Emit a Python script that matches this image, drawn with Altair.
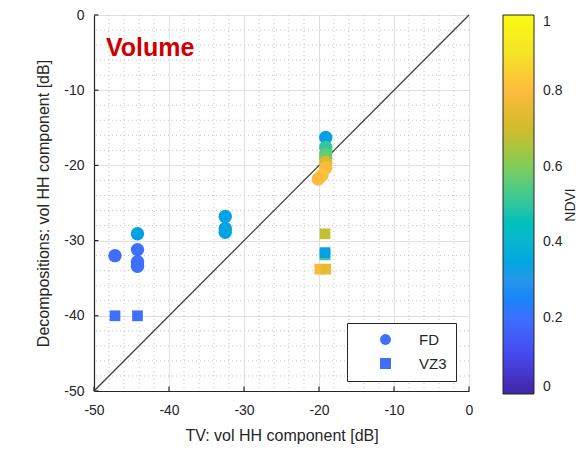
import altair as alt
import pandas as pd

# ---- data ----
fd_x = [-47.2, -44.2, -44.2, -44.2, -44.2, -32.5, -32.5, -32.5,
        -19.1, -19.1, -19.1, -19.1, -19.1, -19.1, -19.6, -20.1]
fd_y = [-32.0, -29.1, -31.2, -32.8, -33.4, -26.8, -28.4, -28.9,
        -16.3, -17.6, -18.5, -19.0, -19.6, -20.3, -21.3, -21.8]
fd_ndvi = [0.20, 0.33, 0.20, 0.20, 0.20, 0.34, 0.34, 0.34,
           0.33, 0.50, 0.55, 0.58, 0.72, 0.80, 0.82, 0.80]

vz_x = [-47.2, -44.2, -19.2, -19.2, -19.2, -19.9, -19.1]
vz_y = [-40.0, -40.0, -29.1, -31.9, -31.6, -33.8, -33.8]
vz_ndvi = [0.20, 0.20, 0.68, 0.52, 0.33, 0.80, 0.75]

methods = ["FD", "VZ3"]
major_ticks = [-50, -40, -30, -20, -10, 0]
minor_ticks = [v for v in range(-50, 1, 2) if v % 10 != 0]
diag_x = [-50, 0]
diag_y = [-50, 0]
axis_min = -50
tick_len = 0.6  # inward tick length in data units

parula_stops = [0, 0.1, 0.2, 0.3, 0.4, 0.5, 0.6, 0.7, 0.8, 0.9, 1]
parula_colors = ["#3e26a8", "#4747eb", "#3e6fff", "#2796eb", "#08b5d0", "#31c69f",
                 "#81cc59", "#d1bb2d", "#fcbb3e", "#f5e426", "#f9fb0e"]
cbar_ticks = [0, 0.2, 0.4, 0.6, 0.8, 1]

pts = pd.DataFrame({
    "x": fd_x + vz_x,
    "y": fd_y + vz_y,
    "ndvi": fd_ndvi + vz_ndvi,
    "method": ["FD"] * len(fd_x) + ["VZ3"] * len(vz_x),
    "ord": list(range(len(fd_x) + len(vz_x))),
})

FONT = "Liberation Sans"
TXT = "#262626"
LBL = "toString(datum.value)"

xscale = alt.Scale(domain=[-50, 0], nice=False)
yscale = alt.Scale(domain=[-50, 0], nice=False)

xaxis = alt.Axis(values=major_ticks, title="TV: vol HH component [dB]", grid=True,
                 gridColor="#e0e0e0", domain=True, domainColor=TXT, domainWidth=1.2,
                 ticks=False, labelPadding=12, labelFlush=False,
                 labelExpr=LBL,
                 labelFontSize=14, labelColor=TXT, labelFont=FONT, titleFont=FONT,
                 titleFontSize=16, titleFontWeight="normal", titleColor=TXT, titlePadding=10)
yaxis = alt.Axis(values=major_ticks, title="Decompositions: vol HH component [dB]", grid=True,
                 gridColor="#e0e0e0", domain=True, domainColor=TXT, domainWidth=1.2,
                 ticks=False, labelPadding=10, labelFlush=False,
                 labelExpr=LBL,
                 labelFontSize=14, labelColor=TXT, labelFont=FONT, titleFont=FONT,
                 titleFontSize=16, titleFontWeight="normal", titleColor=TXT, titlePadding=12)

minor_v = alt.Chart(pd.DataFrame({"v": minor_ticks})).mark_rule(
    color="#c4c4c4", strokeDash=[1, 3], strokeWidth=1
).encode(x=alt.X("v:Q", scale=xscale, axis=xaxis))
minor_h = alt.Chart(pd.DataFrame({"v": minor_ticks})).mark_rule(
    color="#c4c4c4", strokeDash=[1, 3], strokeWidth=1
).encode(y=alt.Y("v:Q", scale=yscale, axis=yaxis))

tick_df = pd.DataFrame({"v": major_ticks, "lo": [axis_min] * len(major_ticks),
                        "hi": [axis_min + tick_len] * len(major_ticks)})
ticks_x = alt.Chart(tick_df).mark_rule(color=TXT, strokeWidth=1.2).encode(
    x=alt.X("v:Q", scale=xscale, axis=xaxis),
    y=alt.Y("lo:Q", scale=yscale, axis=yaxis), y2="hi:Q")
ticks_y = alt.Chart(tick_df).mark_rule(color=TXT, strokeWidth=1.2).encode(
    y=alt.Y("v:Q", scale=yscale, axis=yaxis),
    x=alt.X("lo:Q", scale=xscale, axis=xaxis), x2="hi:Q")

diag = alt.Chart(pd.DataFrame({"x": diag_x, "y": diag_y})).mark_line(
    color="#404040", strokeWidth=1.3
).encode(x=alt.X("x:Q", scale=xscale, axis=xaxis), y=alt.Y("y:Q", scale=yscale, axis=yaxis))

points = alt.Chart(pts).mark_point(filled=True, opacity=1, strokeWidth=0).encode(
    x=alt.X("x:Q", scale=xscale, axis=xaxis),
    y=alt.Y("y:Q", scale=yscale, axis=yaxis),
    color=alt.Color("ndvi:Q",
                    scale=alt.Scale(domain=parula_stops, range=parula_colors),
                    legend=alt.Legend(title=None, orient="right", offset=34,
                                      gradientLength=379, gradientThickness=31,
                                      gradientStrokeColor=TXT, gradientStrokeWidth=1,
                                      values=cbar_ticks, labelExpr=LBL,
                                      labelBaseline="middle",
                                      labelFontSize=14, labelColor=TXT,
                                      labelFont=FONT, labelOffset=9)),
    shape=alt.Shape("method:N",
                    scale=alt.Scale(domain=methods, range=["circle", "square"]),
                    legend=alt.Legend(title=None, orient="none", legendX=253, legendY=308,
                                      fillColor="white", strokeColor=TXT, padding=9,
                                      symbolOffset=22, labelOffset=26, rowPadding=8,
                                      symbolSize=120, symbolFillColor="#3e6fff",
                                      symbolStrokeWidth=0, labelFontSize=15,
                                      labelColor=TXT, labelFont=FONT)),
    size=alt.condition("datum.method == 'FD'", alt.value(180), alt.value(115)),
    order=alt.Order("ord:Q"),
)

label = alt.Chart(pd.DataFrame({"x": [-48.4], "y": [-4.4], "t": ["Volume"]})).mark_text(
    align="left", baseline="middle", fontSize=25, fontWeight="bold", color="#cc0000", font=FONT
).encode(x=alt.X("x:Q", scale=xscale, axis=xaxis), y=alt.Y("y:Q", scale=yscale, axis=yaxis),
         text="t:N")

cbar_title = alt.Chart(pd.DataFrame({"t": ["NDVI"]})).mark_text(
    angle=270, baseline="middle", align="center", fontSize=14, color=TXT, font=FONT
).encode(x=alt.value(477), y=alt.value(190), text="t:N")

chart = alt.layer(minor_v, minor_h, ticks_x, ticks_y, diag, points, label, cbar_title).properties(
    width=375, height=376,
    autosize=alt.AutoSizeParams(type="none"),
    padding={"left": 86, "top": 7, "right": 108, "bottom": 61},
).configure_view(strokeWidth=0).configure(background="white")

chart.save("out.html", embed_options={"renderer": "svg", "actions": False})
